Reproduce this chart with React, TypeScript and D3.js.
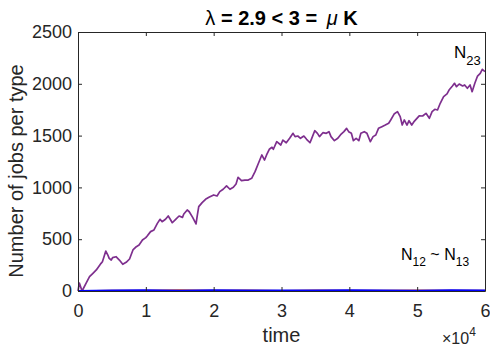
import * as d3 from "d3";
import { useEffect, useRef } from "react";

// time in units of 10^4
const time23 = [
  0, 0.02, 0.06, 0.12, 0.17, 0.22, 0.27, 0.34, 0.36, 0.41, 0.44, 0.46, 0.49, 0.51, 0.56, 0.61, 0.66, 0.71, 0.76, 0.81, 0.86, 0.9, 0.95,
  1.0, 1.02, 1.07, 1.12, 1.17, 1.21, 1.24, 1.29, 1.33, 1.36, 1.39, 1.44, 1.49, 1.54, 1.56, 1.61, 1.64, 1.69, 1.74, 1.76, 1.78, 1.83, 1.88, 1.93,
  2.0, 2.05, 2.09, 2.14, 2.19, 2.24, 2.29, 2.33, 2.36, 2.41, 2.46, 2.51, 2.56, 2.61, 2.66, 2.71, 2.75, 2.78, 2.82, 2.86, 2.88, 2.93,
  2.99, 3.02, 3.07, 3.12, 3.17, 3.2, 3.24, 3.28, 3.33, 3.37, 3.42, 3.44, 3.49, 3.53, 3.56, 3.61, 3.66, 3.7, 3.73, 3.78, 3.83, 3.88, 3.92, 3.96,
  3.99, 4.03, 4.06, 4.1, 4.14, 4.17, 4.22, 4.26, 4.31, 4.35, 4.39, 4.43, 4.48, 4.53, 4.58, 4.61, 4.66, 4.71, 4.75, 4.78, 4.81, 4.85, 4.88, 4.92, 4.96,
  5.03, 5.08, 5.13, 5.18, 5.22, 5.26, 5.3, 5.34, 5.39, 5.44, 5.47, 5.52, 5.55, 5.58, 5.62, 5.67, 5.7, 5.74, 5.78, 5.81, 5.85, 5.89, 5.93, 5.96, 6.0,
];
const jobs23 = [
  0, 77, 0, 77, 138, 170, 203, 267, 283, 386, 347, 315, 299, 322, 331, 299, 258, 277, 309, 396, 428, 444, 492,
  515, 531, 573, 589, 653, 692, 669, 692, 724, 692, 659, 692, 724, 711, 743, 782, 765, 711, 647, 734, 814, 853, 885, 904,
  927, 917, 959, 982, 1014, 982, 1001, 1033, 1098, 1065, 1071, 1071, 1088, 1152, 1233, 1313, 1264, 1313, 1368, 1387, 1368, 1441,
  1409, 1457, 1431, 1474, 1522, 1490, 1496, 1474, 1496, 1464, 1431, 1464, 1547, 1522, 1490, 1528, 1522, 1538, 1490, 1451, 1474, 1515, 1538, 1570,
  1538, 1522, 1451, 1474, 1451, 1522, 1538, 1522, 1441, 1490, 1506, 1570, 1586, 1602, 1619, 1651, 1708, 1731, 1683, 1602, 1651, 1602, 1644, 1602, 1640,
  1690, 1689, 1715, 1667, 1731, 1754, 1747, 1812, 1876, 1902, 1940, 1979, 2005, 1972, 1998, 1979, 1989, 1957, 1989, 1924, 2005, 2075, 2101, 2140, 2118,
];

const timeLow = [0, 0.5, 1, 1.5, 2, 2.5, 3, 3.5, 4, 4.5, 5, 5.5, 6];
const jobs12 = [0, 6, 4, 9, 5, 7, 3, 8, 6, 4, 7, 5, 6];
const jobs13 = [0, 4, 7, 3, 8, 5, 6, 4, 7, 6, 3, 8, 4];

const xTicks = [0, 1, 2, 3, 4, 5, 6];
const yTicks = [0, 500, 1000, 1500, 2000, 2500];

const font = "'Liberation Sans', Arial, Helvetica, sans-serif";

export default function App() {
  const width = 490;
  const height = 348;
  const marginLeft = 78;
  const marginRight = 5;
  const marginTop = 32;
  const marginBottom = 57;
  const svgRef = useRef(null);

  useEffect(() => {
    const svg = d3.select(svgRef.current);
    svg.selectAll("*").remove();

    const x = d3.scaleLinear().domain([0, 6]).range([marginLeft, width - marginRight]);
    const y = d3.scaleLinear().domain([0, 2500]).range([height - marginBottom, marginTop]);

    const line = (ts, vs) =>
      d3.line().x((d, i) => x(ts[i])).y((d) => y(d))(vs);

    // lines
    svg.append("path")
      .attr("d", line(time23, jobs23))
      .attr("fill", "none")
      .attr("stroke", "#7E2F8E")
      .attr("stroke-width", 1.7)
      .attr("stroke-linejoin", "round");

    svg.append("path")
      .attr("d", line(timeLow, jobs12))
      .attr("fill", "none")
      .attr("stroke", "#D95319")
      .attr("stroke-width", 1.5);

    svg.append("path")
      .attr("d", line(timeLow, jobs13))
      .attr("fill", "none")
      .attr("stroke", "#0000FF")
      .attr("stroke-width", 2);

    // axes (box with inward ticks)
    const styleAxis = (g) => {
      g.selectAll(".domain").attr("stroke", "#262626").attr("stroke-width", 1);
      g.selectAll(".tick line").attr("stroke", "#262626").attr("stroke-width", 1);
      g.selectAll("text")
        .attr("fill", "#262626")
        .style("font-family", font)
        .style("font-size", "18px");
    };

    svg.append("g")
      .attr("transform", `translate(0, ${height - marginBottom})`)
      .call(d3.axisBottom(x).tickValues(xTicks).tickSizeInner(-4).tickSizeOuter(0).tickPadding(13).tickFormat(d3.format("d")))
      .call(styleAxis);

    svg.append("g")
      .attr("transform", `translate(0, ${marginTop})`)
      .call(d3.axisTop(x).tickValues(xTicks).tickSizeInner(-4).tickSizeOuter(0).tickFormat(() => ""))
      .call(styleAxis);

    svg.append("g")
      .attr("transform", `translate(${marginLeft}, 0)`)
      .call(d3.axisLeft(y).tickValues(yTicks).tickSizeInner(-4).tickSizeOuter(0).tickPadding(6).tickFormat(d3.format("d")))
      .call(styleAxis);

    svg.append("g")
      .attr("transform", `translate(${width - marginRight}, 0)`)
      .call(d3.axisRight(y).tickValues(yTicks).tickSizeInner(-4).tickSizeOuter(0).tickFormat(() => ""))
      .call(styleAxis);

    // title
    const title = svg.append("text")
      .attr("x", (marginLeft + width - marginRight) / 2)
      .attr("y", 25)
      .attr("text-anchor", "middle")
      .attr("fill", "#000")
      .style("font-family", font)
      .style("font-size", "20px")
      .style("font-weight", "bold");
    title.append("tspan").style("font-weight", "normal").text("λ");
    title.append("tspan").text(" = 2.9 < 3 = ");
    title.append("tspan").attr("dx", 4).style("font-weight", "normal").style("font-style", "italic").text("μ");
    title.append("tspan").text(" K");

    // axis labels
    svg.append("text")
      .attr("x", (marginLeft + width - marginRight) / 2)
      .attr("y", 342)
      .attr("text-anchor", "middle")
      .attr("fill", "#262626")
      .style("font-family", font)
      .style("font-size", "20px")
      .text("time");

    svg.append("text")
      .attr("transform", `translate(23, 171) rotate(-90)`)
      .attr("text-anchor", "middle")
      .attr("fill", "#262626")
      .style("font-family", font)
      .style("font-size", "20px")
      .text("Number of jobs per type");

    const expo = svg.append("text")
      .attr("x", 442)
      .attr("y", 344)
      .attr("fill", "#262626")
      .style("font-family", font)
      .style("font-size", "16px");
    expo.append("tspan").text("×10");
    expo.append("tspan").attr("dy", -8).style("font-size", "12px").text("4");

    // annotations
    const n23 = svg.append("text")
      .attr("x", 454)
      .attr("y", 58)
      .attr("fill", "#000")
      .style("font-family", font)
      .style("font-size", "17px");
    n23.append("tspan").text("N");
    n23.append("tspan").attr("dy", 7).style("font-size", "13px").text("23");

    const nLow = svg.append("text")
      .attr("x", 401)
      .attr("y", 260)
      .attr("fill", "#000")
      .style("font-family", font)
      .style("font-size", "16px");
    nLow.append("tspan").text("N");
    nLow.append("tspan").attr("dy", 6).style("font-size", "12px").text("12");
    nLow.append("tspan").attr("dy", -6).text(" ~ N");
    nLow.append("tspan").attr("dy", 6).style("font-size", "12px").text("13");
  }, []);

  return (
    <svg
      ref={svgRef}
      width={width}
      height={height}
      style={{ position: "absolute", left: 0, top: 0, background: "#fff" }}
    />
  );
}
